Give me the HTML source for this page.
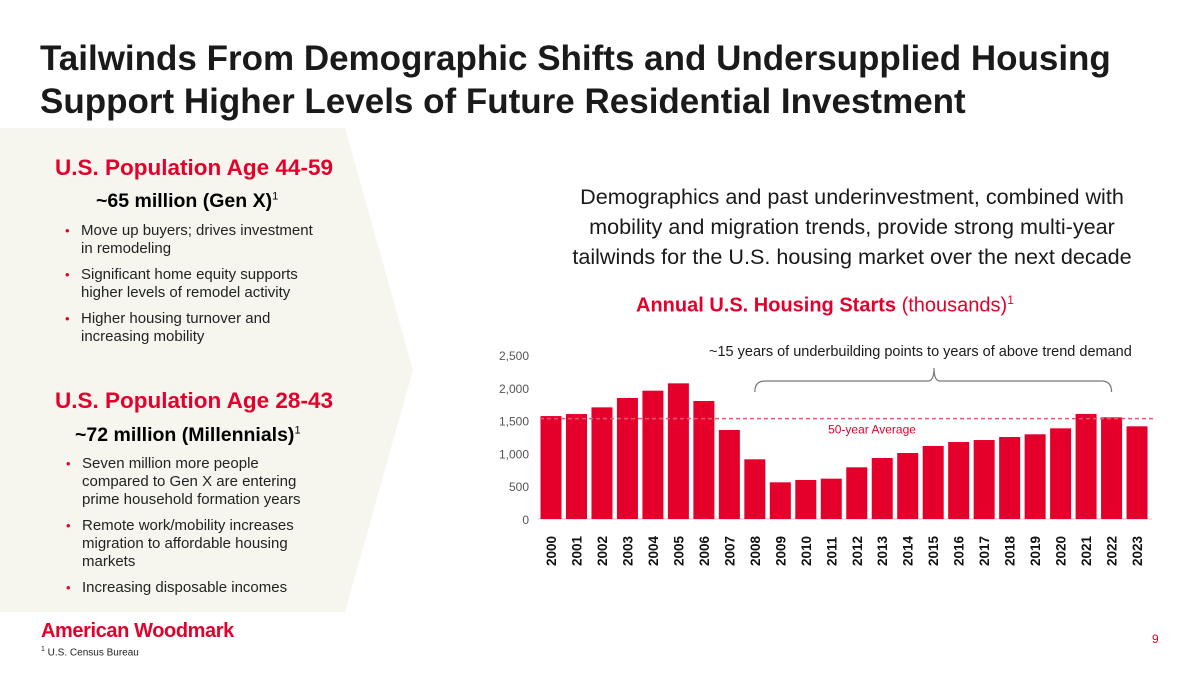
<!DOCTYPE html>
<html><head><meta charset="utf-8"><style>
body{margin:0;width:1200px;height:675px;overflow:hidden;background:#fff;font-family:"Liberation Sans",sans-serif;position:relative}
.a{position:absolute;white-space:nowrap}
.red{color:#e4002b}
.h{font-weight:bold;font-size:22.5px}
.b{font-size:15px;line-height:18px;color:#222}
.dot{position:absolute;left:-16px;color:#e4002b;font-size:13px}
</style></head><body>
<div class="a" style="left:40px;top:37px;font-size:35px;font-weight:bold;line-height:43px;color:#1a1a1a">Tailwinds From Demographic Shifts and Undersupplied Housing<br>Support Higher Levels of Future Residential Investment</div>
<svg class="a" style="left:0;top:0" width="1200" height="675"><polygon points="0,128 345,128 413,370 345,612 0,612" fill="#f6f6ef"/></svg>
<div class="a h red" style="left:55px;top:155px">U.S. Population Age 44-59</div>
<div class="a" style="left:96px;top:190px;font-size:19.5px;font-weight:bold">~65 million (Gen X)<sup style="font-size:11px;font-weight:normal">1</sup></div>
<div class="a b" style="left:81px;top:222px">
<div style="position:relative"><span class="dot">•</span>Move up buyers; drives investment<br>in remodeling</div>
<div style="position:relative;margin-top:8px"><span class="dot">•</span>Significant home equity supports<br>higher levels of remodel activity</div>
<div style="position:relative;margin-top:8px"><span class="dot">•</span>Higher housing turnover and<br>increasing mobility</div></div>
<div class="a h red" style="left:55px;top:388px">U.S. Population Age 28-43</div>
<div class="a" style="left:75px;top:424px;font-size:19.5px;font-weight:bold">~72 million (Millennials)<sup style="font-size:11px;font-weight:normal">1</sup></div>
<div class="a b" style="left:82px;top:455px">
<div style="position:relative"><span class="dot">•</span>Seven million more people<br>compared to Gen X are entering<br>prime household formation years</div>
<div style="position:relative;margin-top:8px"><span class="dot">•</span>Remote work/mobility increases<br>migration to affordable housing<br>markets</div>
<div style="position:relative;margin-top:8px"><span class="dot">•</span>Increasing disposable incomes</div></div>
<div class="a" style="left:500px;top:182px;width:704px;text-align:center;font-size:21.6px;line-height:30px;color:#1a1a1a">Demographics and past underinvestment, combined with<br>mobility and migration trends, provide strong multi-year<br>tailwinds for the U.S. housing market over the next decade</div>
<div class="a" style="left:636px;top:293px;font-size:20px;color:#e4002b"><b>Annual U.S. Housing Starts</b> (thousands)<sup style="font-size:12px">1</sup></div>
<div class="a" style="left:709px;top:344px;font-size:14.5px;color:#1a1a1a">~15 years of underbuilding points to years of above trend demand</div>
<svg class="a" id="chart" style="left:0;top:0" width="1200" height="675"></svg>
<div class="a" style="left:41px;top:620px;font-size:20px;font-weight:bold;color:#e4002b;letter-spacing:-0.4px">American Woodmark</div>
<div class="a" style="left:41px;top:646px;font-size:10px;color:#222"><sup style="font-size:7px">1</sup> U.S. Census Bureau</div>
<div class="a" style="left:1152px;top:632px;font-size:12px;color:#e4002b">9</div>
<script>
const years=["2000","2001","2002","2003","2004","2005","2006","2007","2008","2009","2010","2011","2012","2013","2014","2015","2016","2017","2018","2019","2020","2021","2022","2023"];
const starts=[1569,1600,1702,1845,1956,2068,1799,1357,910,559,595,615,788,930,1006,1113,1174,1204,1250,1291,1382,1601,1550,1413];
const yTicks=[0,500,1000,1500,2000,2500];
const yTickLabels=["0","500","1,000","1,500","2,000","2,500"];
const average=[1530];
const NS="http://www.w3.org/2000/svg",svg=document.getElementById('chart');
const y0=519,yTop=355,yMax=2500,x0=551,step=25.48,bw=21;
const Y=v=>y0-(v/yMax)*(y0-yTop);
const X=i=>x0+i*step;
function el(t,a){const e=document.createElementNS(NS,t);for(const k in a)e.setAttribute(k,a[k]);svg.appendChild(e);return e;}
yTicks.forEach((t,i)=>{const e=el('text',{x:529,y:Y(t)+5,'text-anchor':'end','font-size':12,fill:'#555','font-family':'Liberation Sans'});e.textContent=yTickLabels[i];

});
const ax=el('line',{x1:538,x2:1152,y1:y0,y2:y0,stroke:'#ccc'});


starts.forEach((v,i)=>{const r=el('rect',{x:X(i)-bw/2,y:Y(v),width:bw,height:y0-Y(v),fill:'#e4002b'});


const t=el('text',{transform:`translate(${X(i)+5},${y0+47}) rotate(-90)`,'font-size':13.5,'font-weight':'bold',fill:'#111','font-family':'Liberation Sans'});t.textContent=years[i];

});
const al=el('line',{x1:540,x2:1155,y1:Y(average[0]),y2:Y(average[0]),stroke:'#e4587a','stroke-width':1.5,'stroke-dasharray':'4,3'});


const at=el('text',{x:872,y:Y(average[0])+15,'text-anchor':'middle','font-size':12,fill:'#e4002b','font-family':'Liberation Sans'});at.textContent='50-year Average';


const br=el('path',{d:`M${X(8)},392 Q${X(8)},381 ${X(8)+10},381 L928,381 Q934,381 934,368 Q934,381 940,381 L${X(22)-10},381 Q${X(22)},381 ${X(22)},392`,fill:'none',stroke:'#777','stroke-width':1.2});


</script>
</body></html>
